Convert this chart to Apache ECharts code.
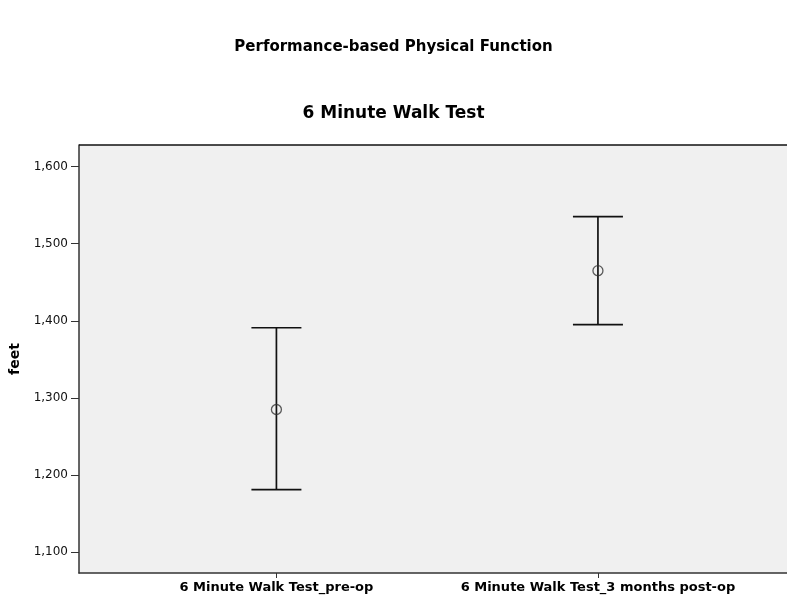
<!DOCTYPE html>
<html><head><meta charset="utf-8">
<script src="https://cdn.jsdelivr.net/npm/echarts@6/dist/echarts.min.js"></script>
<style>html,body{margin:0;padding:0;background:#fff}#c{width:787px;height:602px}</style>
</head><body><div id="c"></div>
<script>
const categories = ['6 Minute Walk Test_pre-op', '6 Minute Walk Test_3 months post-op'];
const means = [1285, 1465];
const lower = [1181, 1395];
const upper = [1391, 1535];
const yTicks = [1100, 1200, 1300, 1400, 1500, 1600];

const chart = echarts.init(document.getElementById('c'));
const font = 'DejaVu Sans, sans-serif';
chart.setOption({
  animation: false,
  backgroundColor: '#fff',
  title: [
    {text: 'Performance-based Physical Function', left: 'center', top: 35,
     textStyle: {fontFamily: font, fontSize: 15, fontWeight: 'bold', color: '#000'}},
    {text: '6 Minute Walk Test', left: 'center', top: 100,
     textStyle: {fontFamily: font, fontSize: 17, fontWeight: 'bold', color: '#000'}}
  ],
  grid: {left: 79, right: 0, top: 145, bottom: 29, show: true, backgroundColor: '#f0f0f0', borderWidth: 0},
  xAxis: {
    type: 'value', min: -0.614, max: 1.588,
    axisLine: {show: true, onZero: false, lineStyle: {color: '#333', width: 1.5}},
    axisTick: {show: true, customValues: [0, 1], length: 5, lineStyle: {color: '#333'}},
    axisLabel: {show: true, customValues: [0, 1], formatter: v => categories[Math.round(v)],
      fontFamily: font, fontSize: 13, fontWeight: 'bold', color: '#000', margin: 8},
    splitLine: {show: false}
  },
  yAxis: [{
    type: 'value', min: 1073, max: 1628,
    name: 'feet', nameLocation: 'middle', nameGap: 54,
    nameTextStyle: {fontFamily: font, fontSize: 14, fontWeight: 'bold', color: '#000'},
    axisLine: {show: true, onZero: false, lineStyle: {color: '#333', width: 1.5}},
    axisTick: {show: true, customValues: yTicks, length: 8, lineStyle: {color: '#333'}},
    axisLabel: {customValues: yTicks, formatter: v => v.toLocaleString('en-US'),
      fontFamily: font, fontSize: 12, color: '#111', margin: 11},
    splitLine: {show: false}
  }],
  graphic: [{type: 'line', shape: {x1: 79, y1: 145, x2: 787, y2: 145}, style: {stroke: '#111', lineWidth: 1.5}, z: 100}],
  series: [
    {
      type: 'custom',
      data: categories.map((c, i) => [i, lower[i], upper[i]]),
      renderItem: function (params, api) {
        const x = api.value(0);
        const lo = api.coord([x, api.value(1)]);
        const hi = api.coord([x, api.value(2)]);
        const hw = 25;
        const st = {stroke: '#111', lineWidth: 1.7};
        return {type: 'group', children: [
          {type: 'line', shape: {x1: lo[0], y1: lo[1], x2: hi[0], y2: hi[1]}, style: st},
          {type: 'line', shape: {x1: lo[0] - hw, y1: lo[1], x2: lo[0] + hw, y2: lo[1]}, style: st},
          {type: 'line', shape: {x1: hi[0] - hw, y1: hi[1], x2: hi[0] + hw, y2: hi[1]}, style: st}
        ]};
      },
      z: 2
    },
    {
      type: 'scatter',
      data: categories.map((c, i) => [i, means[i]]),
      symbol: 'circle', symbolSize: 10,
      itemStyle: {color: 'rgba(0,0,0,0)', borderColor: '#333', borderWidth: 1.3},
      z: 3
    }
  ]
});
</script></body></html>
